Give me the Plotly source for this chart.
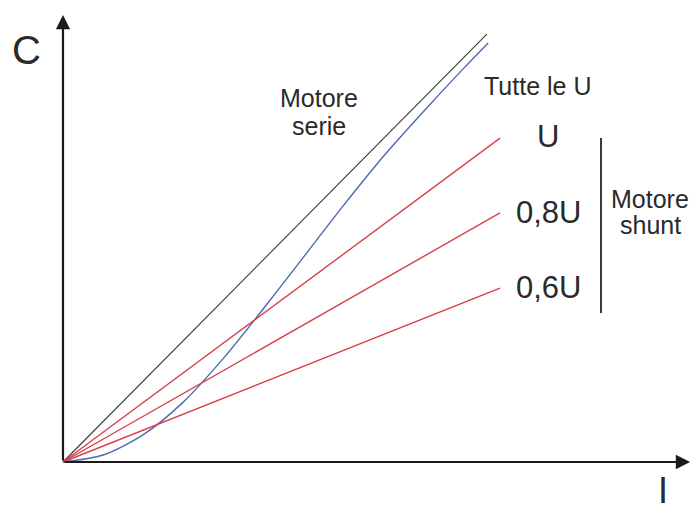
import plotly.graph_objects as go

# ---- data (arbitrary units: I = current, C = torque) ----
I_line = [0, 10]
C_U = [0, 7.41]
C_08U = [0, 5.70]
C_06U = [0, 3.98]

I_ideal = [0, 9.70]
C_ideal = [0, 9.79]

I_serie = [0, 0.92, 1.83, 2.75, 3.66, 4.58, 5.49, 6.41, 7.32, 8.24, 9.15, 9.73]
C_serie = [0, 0.16, 0.62, 1.37, 2.36, 3.50, 4.67, 5.86, 6.98, 8.01, 8.99, 9.59]

I_axis_max = 14.35
C_axis_max = 10.23

shunt_labels = ["U", "0,8U", "0,6U"]

W, H = 692, 514
X0, Y0, S = 63, 462, 43.7  # origin pixel and pixels per unit (layout only)

fig = go.Figure()

RED = "#d8404a"
BLUE = "#4a6cae"

fig.add_trace(go.Scatter(x=I_ideal, y=C_ideal, mode="lines",
                         line=dict(color="#3a3a3a", width=1.1), hoverinfo="skip"))
fig.add_trace(go.Scatter(x=I_serie, y=C_serie, mode="lines",
                         line=dict(color=BLUE, width=1.4, shape="spline", smoothing=0.8),
                         hoverinfo="skip"))
for cy in (C_U, C_08U, C_06U):
    fig.add_trace(go.Scatter(x=I_line, y=cy, mode="lines",
                             line=dict(color=RED, width=1.4), hoverinfo="skip"))


def px(x):
    return x / W


def py(y):
    return 1 - y / H


ann = []
# axes arrows
ann.append(dict(x=I_axis_max, y=0, ax=0, ay=0, xref="x", yref="y", axref="x", ayref="y",
                text="", showarrow=True, arrowhead=2, arrowsize=1.3, arrowwidth=2.2,
                arrowcolor="#1a1a1a"))
ann.append(dict(x=0, y=C_axis_max, ax=0, ay=0, xref="x", yref="y", axref="x", ayref="y",
                text="", showarrow=True, arrowhead=2, arrowsize=1.3, arrowwidth=2.2,
                arrowcolor="#1a1a1a"))

FONT = "Liberation Sans, Arial, sans-serif"
TXT = "#2a2a2a"


def label(text, cx, cy, size):
    ann.append(dict(x=px(cx), y=py(cy), xref="paper", yref="paper", text=text,
                    showarrow=False, xanchor="center", yanchor="middle",
                    font=dict(family=FONT, size=size, color=TXT)))


label("C", 26, 50, 40)
label("I", 663, 490, 36)
label("Motore", 319, 98, 25)
label("serie", 319, 126, 25)
label("Tutte le U", 537, 86, 25)
label(shunt_labels[0], 548, 137, 31)
label(shunt_labels[1], 548, 212, 31)
label(shunt_labels[2], 548, 287, 31)
label("Motore", 650, 199, 25)
label("shunt", 650, 225, 25)

fig.update_layout(
    width=W, height=H,
    margin=dict(l=0, r=0, t=0, b=0),
    paper_bgcolor="white", plot_bgcolor="white",
    showlegend=False,
    xaxis=dict(range=[-X0 / S, (W - X0) / S], visible=False, fixedrange=True),
    yaxis=dict(range=[-(H - Y0) / S, Y0 / S], visible=False, fixedrange=True),
    annotations=ann,
    shapes=[
        dict(type="line", xref="paper", yref="paper",
             x0=px(601), x1=px(601), y0=py(138), y1=py(313),
             line=dict(color="#3a3a3a", width=2)),
    ],
)

fig.write_html("out.html",
               config={"displayModeBar": False},
               post_script="document.body.style.margin='0px';document.body.style.overflow='hidden';")
